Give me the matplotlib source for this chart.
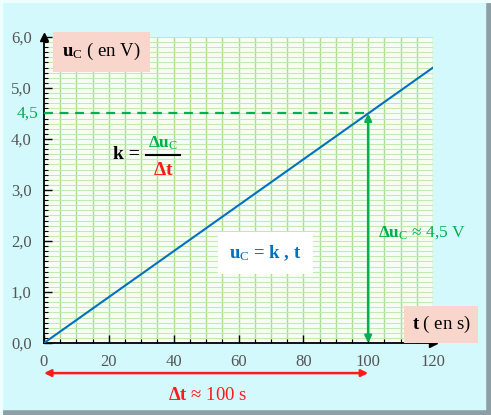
import numpy as np
import matplotlib.pyplot as plt
from matplotlib.lines import Line2D
from matplotlib.ticker import MultipleLocator, FuncFormatter

plt.rcParams['font.family'] = ['Liberation Serif', 'DejaVu Serif']
plt.rcParams['mathtext.fontset'] = 'custom'
plt.rcParams['mathtext.rm'] = 'Liberation Serif'
plt.rcParams['mathtext.bf'] = 'Liberation Serif:bold'
plt.rcParams['mathtext.it'] = 'Liberation Serif:italic'

# data
t_vals = [0, 120]          # s
uc_vals = [0, 5.4]         # V
t_read = 100               # delta t
uc_read = 4.5              # delta uC

GREEN = '#00b050'
RED = '#ff1a1a'
BLUE = '#0070c0'
PINK = '#f9d6cb'
BG = '#d3f9fc'

fig = plt.figure(figsize=(4.91, 4.15), dpi=100, facecolor=BG)
ax = fig.add_axes([44 / 491, 1 - 343 / 415, 389 / 491, 306 / 415])
ax.set_facecolor('#f7fdf3')

ax.set_xlim(0, 120)
ax.set_ylim(0, 6)

# graph paper grid
ax.xaxis.set_major_locator(MultipleLocator(20))
ax.xaxis.set_minor_locator(MultipleLocator(5))
ax.yaxis.set_major_locator(MultipleLocator(1))
ax.yaxis.set_minor_locator(MultipleLocator(0.1))
for x in np.arange(5, 120.1, 5):
    ax.axvline(x, color='#a8df92', lw=1.0, zorder=0)
for y in np.arange(0.1, 6.01, 0.1):
    ax.axhline(y, color='#c3eab2', lw=0.75, zorder=0)

ax.tick_params(which='both', direction='in', colors='black', labelcolor='#555555',
               labelsize=12)
ax.tick_params(which='major', length=6, width=1)
ax.tick_params(which='minor', length=3, width=0.8)
ax.tick_params(axis='x', pad=8)
ax.tick_params(axis='y', pad=9)
ax.yaxis.set_major_formatter(FuncFormatter(lambda v, p: f'{v:.1f}'.replace('.', ',')))
ax.xaxis.set_major_formatter(FuncFormatter(lambda v, p: f'{v:.0f}'))

for s in ['top', 'right']:
    ax.spines[s].set_visible(False)
for s in ['left', 'bottom']:
    ax.spines[s].set_linewidth(1.3)
ax.plot(1, 0, '>k', transform=ax.transAxes, clip_on=False, ms=6)
ax.plot(0, 1, '^k', transform=ax.transAxes, clip_on=False, ms=6)

# the line
ax.plot(t_vals, uc_vals, color=BLUE, lw=1.5, zorder=3)

# reading at t = 100 s
ax.plot([0, t_read], [uc_read, uc_read], color=GREEN, lw=1.6, ls=(0, (4, 3)), zorder=3)
ax.annotate('', xy=(t_read, uc_read), xytext=(t_read, 0),
            arrowprops=dict(arrowstyle='<|-|>', color=GREEN, lw=1.8,
                            mutation_scale=10, shrinkA=0, shrinkB=0), zorder=4)
ax.text(-1.8, uc_read, '4,5', ha='right', va='center', color=GREEN, fontsize=12.5,
        clip_on=False)
ax.text(103, 2.16, r'$\mathbf{\Delta u}_{\mathrm{C}}$ ≈ 4,5 V', color=GREEN,
        fontsize=12.5, ha='left', va='center')

# delta t arrow under the axis
ax.annotate('', xy=(t_read, -0.59), xytext=(0, -0.59), annotation_clip=False,
            arrowprops=dict(arrowstyle='<|-|>', color=RED, lw=1.8,
                            mutation_scale=10, shrinkA=0, shrinkB=0))
ax.text(50.5, -1.02, r'$\mathbf{\Delta t}$ ≈ 100 s', color=RED, fontsize=13.5,
        ha='center', va='center', clip_on=False)

# axis names
ax.text(17.8, 5.71, r'$\mathbf{u}_{\mathrm{C}}$ ( en V)', fontsize=13.5, ha='center',
        va='center', bbox=dict(boxstyle='square,pad=0.5', fc=PINK, ec='none'))
ax.text(122.5, 0.37, r'$\mathbf{t}$ ( en s)', fontsize=13.5, ha='center', va='center',
        clip_on=False, bbox=dict(boxstyle='square,pad=0.42', fc=PINK, ec='none'))

# k = delta uC / delta t
ax.text(29.5, 3.69, 'k =', fontsize=14, fontweight='bold', ha='right', va='center')
ax.plot([31.5, 42.0], [3.69, 3.69], color='black', lw=1.5)
ax.text(36.7, 3.92, r'$\mathbf{\Delta u}_{\mathrm{C}}$', color=GREEN, fontsize=12.5,
        ha='center', va='center')
ax.text(36.7, 3.38, r'$\mathbf{\Delta t}$', color=RED, fontsize=14, ha='center',
        va='center')

ax.text(68.2, 1.76, r'$\mathbf{u}_{\mathrm{C}}$ = k , t', color=BLUE,
        fontsize=13.5, fontweight='bold', ha='center', va='center',
        bbox=dict(boxstyle='square,pad=0.6', fc='white', ec='none'))

# bevelled frame
fig.add_artist(Line2D([0, 1], [0.004, 0.004], transform=fig.transFigure, color='#8d9ea4', lw=4))
fig.add_artist(Line2D([0.996, 0.996], [0, 1], transform=fig.transFigure, color='#8d9ea4', lw=4))
fig.add_artist(Line2D([0, 1], [0.997, 0.997], transform=fig.transFigure, color='#eefdfe', lw=3))
fig.add_artist(Line2D([0.003, 0.003], [0, 1], transform=fig.transFigure, color='#eefdfe', lw=3))

fig.savefig('out.png', dpi=100, facecolor=BG)
